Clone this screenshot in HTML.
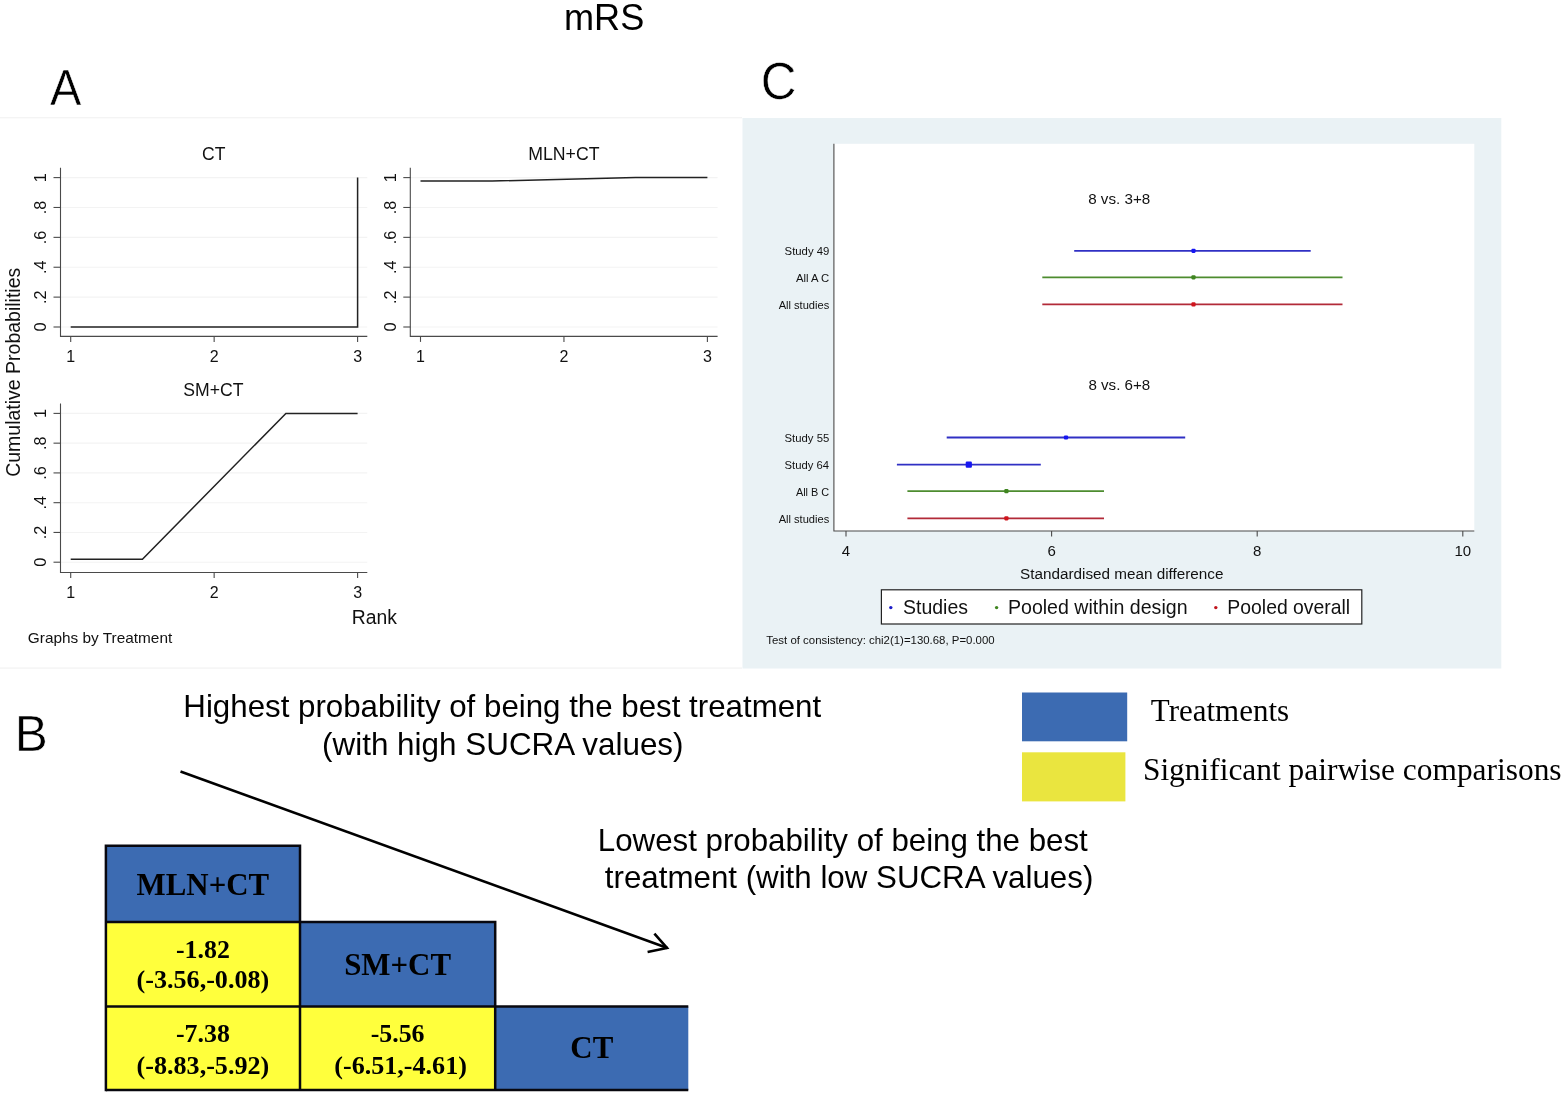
<!DOCTYPE html>
<html lang="en"><head><meta charset="utf-8"><title>mRS</title>
<style>html,body{margin:0;padding:0;background:#fff}svg{display:block}</style>
</head><body>
<svg width="1566" height="1094" viewBox="0 0 1566 1094">
<rect width="1566" height="1094" fill="#fff"/>
<rect x="0" y="117" width="742" height="1.4" fill="#f4f4f4"/>
<rect x="0" y="667.4" width="742" height="1.4" fill="#f4f4f4"/>
<text font-size="36.14" font-family="Liberation Sans, Arial, sans-serif" fill="#000" transform="translate(564.01,30.0) scale(1,1.03)" >mRS</text>
<text font-size="50.58" font-family="Liberation Sans, Arial, sans-serif" fill="#000" stroke="#fff" stroke-width="0.55" transform="translate(50.11,105.30) scale(0.9304,1)">A</text>
<text font-size="51.55" font-family="Liberation Sans, Arial, sans-serif" fill="#000" stroke="#fff" stroke-width="0.55" transform="translate(760.73,98.78) scale(0.9592,1)">C</text>
<text font-size="50.44" font-family="Liberation Sans, Arial, sans-serif" fill="#000" stroke="#fff" stroke-width="0.55" transform="translate(14.74,751.30) scale(0.9820,1)">B</text>
<line x1="60.5" y1="327.00" x2="367.3" y2="327.00" stroke="#f3f3f3" stroke-width="1.1"/>
<line x1="60.5" y1="297.12" x2="367.3" y2="297.12" stroke="#f3f3f3" stroke-width="1.1"/>
<line x1="60.5" y1="267.24" x2="367.3" y2="267.24" stroke="#f3f3f3" stroke-width="1.1"/>
<line x1="60.5" y1="237.36" x2="367.3" y2="237.36" stroke="#f3f3f3" stroke-width="1.1"/>
<line x1="60.5" y1="207.48" x2="367.3" y2="207.48" stroke="#f3f3f3" stroke-width="1.1"/>
<line x1="60.5" y1="177.60" x2="367.3" y2="177.60" stroke="#f3f3f3" stroke-width="1.1"/>
<path d="M60.5 167.8 V336.4 H367.3" fill="none" stroke="#4a4a4a" stroke-width="1.1"/>
<line x1="53.5" y1="327.00" x2="60.5" y2="327.00" stroke="#4a4a4a" stroke-width="1.1"/>
<text x="0" y="0" font-size="16.3" text-anchor="middle" font-family="Liberation Sans, Arial, sans-serif" fill="#111" transform="translate(46.1,327.00) rotate(-90)">0</text>
<line x1="53.5" y1="297.12" x2="60.5" y2="297.12" stroke="#4a4a4a" stroke-width="1.1"/>
<text x="0" y="0" font-size="16.3" text-anchor="middle" font-family="Liberation Sans, Arial, sans-serif" fill="#111" transform="translate(46.1,297.12) rotate(-90)">.2</text>
<line x1="53.5" y1="267.24" x2="60.5" y2="267.24" stroke="#4a4a4a" stroke-width="1.1"/>
<text x="0" y="0" font-size="16.3" text-anchor="middle" font-family="Liberation Sans, Arial, sans-serif" fill="#111" transform="translate(46.1,267.24) rotate(-90)">.4</text>
<line x1="53.5" y1="237.36" x2="60.5" y2="237.36" stroke="#4a4a4a" stroke-width="1.1"/>
<text x="0" y="0" font-size="16.3" text-anchor="middle" font-family="Liberation Sans, Arial, sans-serif" fill="#111" transform="translate(46.1,237.36) rotate(-90)">.6</text>
<line x1="53.5" y1="207.48" x2="60.5" y2="207.48" stroke="#4a4a4a" stroke-width="1.1"/>
<text x="0" y="0" font-size="16.3" text-anchor="middle" font-family="Liberation Sans, Arial, sans-serif" fill="#111" transform="translate(46.1,207.48) rotate(-90)">.8</text>
<line x1="53.5" y1="177.60" x2="60.5" y2="177.60" stroke="#4a4a4a" stroke-width="1.1"/>
<text x="0" y="0" font-size="16.3" text-anchor="middle" font-family="Liberation Sans, Arial, sans-serif" fill="#111" transform="translate(46.1,177.60) rotate(-90)">1</text>
<line x1="70.70" y1="336.4" x2="70.70" y2="341.9" stroke="#4a4a4a" stroke-width="1.1"/>
<text x="70.70" y="361.7" font-size="16" text-anchor="middle" font-family="Liberation Sans, Arial, sans-serif" fill="#111" >1</text>
<line x1="214.15" y1="336.4" x2="214.15" y2="341.9" stroke="#4a4a4a" stroke-width="1.1"/>
<text x="214.15" y="361.7" font-size="16" text-anchor="middle" font-family="Liberation Sans, Arial, sans-serif" fill="#111" >2</text>
<line x1="357.60" y1="336.4" x2="357.60" y2="341.9" stroke="#4a4a4a" stroke-width="1.1"/>
<text x="357.60" y="361.7" font-size="16" text-anchor="middle" font-family="Liberation Sans, Arial, sans-serif" fill="#111" >3</text>
<text x="202.12" y="159.9" font-size="17.54" text-anchor="start" font-family="Liberation Sans, Arial, sans-serif" fill="#111" >CT</text>
<path d="M70.70 327.00 L357.60 327.00 L357.60 177.60 " fill="none" stroke="#222" stroke-width="1.5" stroke-linejoin="miter"/>
<line x1="410.3" y1="327.00" x2="717.6" y2="327.00" stroke="#f3f3f3" stroke-width="1.1"/>
<line x1="410.3" y1="297.12" x2="717.6" y2="297.12" stroke="#f3f3f3" stroke-width="1.1"/>
<line x1="410.3" y1="267.24" x2="717.6" y2="267.24" stroke="#f3f3f3" stroke-width="1.1"/>
<line x1="410.3" y1="237.36" x2="717.6" y2="237.36" stroke="#f3f3f3" stroke-width="1.1"/>
<line x1="410.3" y1="207.48" x2="717.6" y2="207.48" stroke="#f3f3f3" stroke-width="1.1"/>
<line x1="410.3" y1="177.60" x2="717.6" y2="177.60" stroke="#f3f3f3" stroke-width="1.1"/>
<path d="M410.3 167.8 V336.4 H717.6" fill="none" stroke="#4a4a4a" stroke-width="1.1"/>
<line x1="403.3" y1="327.00" x2="410.3" y2="327.00" stroke="#4a4a4a" stroke-width="1.1"/>
<text x="0" y="0" font-size="16.3" text-anchor="middle" font-family="Liberation Sans, Arial, sans-serif" fill="#111" transform="translate(395.90000000000003,327.00) rotate(-90)">0</text>
<line x1="403.3" y1="297.12" x2="410.3" y2="297.12" stroke="#4a4a4a" stroke-width="1.1"/>
<text x="0" y="0" font-size="16.3" text-anchor="middle" font-family="Liberation Sans, Arial, sans-serif" fill="#111" transform="translate(395.90000000000003,297.12) rotate(-90)">.2</text>
<line x1="403.3" y1="267.24" x2="410.3" y2="267.24" stroke="#4a4a4a" stroke-width="1.1"/>
<text x="0" y="0" font-size="16.3" text-anchor="middle" font-family="Liberation Sans, Arial, sans-serif" fill="#111" transform="translate(395.90000000000003,267.24) rotate(-90)">.4</text>
<line x1="403.3" y1="237.36" x2="410.3" y2="237.36" stroke="#4a4a4a" stroke-width="1.1"/>
<text x="0" y="0" font-size="16.3" text-anchor="middle" font-family="Liberation Sans, Arial, sans-serif" fill="#111" transform="translate(395.90000000000003,237.36) rotate(-90)">.6</text>
<line x1="403.3" y1="207.48" x2="410.3" y2="207.48" stroke="#4a4a4a" stroke-width="1.1"/>
<text x="0" y="0" font-size="16.3" text-anchor="middle" font-family="Liberation Sans, Arial, sans-serif" fill="#111" transform="translate(395.90000000000003,207.48) rotate(-90)">.8</text>
<line x1="403.3" y1="177.60" x2="410.3" y2="177.60" stroke="#4a4a4a" stroke-width="1.1"/>
<text x="0" y="0" font-size="16.3" text-anchor="middle" font-family="Liberation Sans, Arial, sans-serif" fill="#111" transform="translate(395.90000000000003,177.60) rotate(-90)">1</text>
<line x1="420.50" y1="336.4" x2="420.50" y2="341.9" stroke="#4a4a4a" stroke-width="1.1"/>
<text x="420.50" y="361.7" font-size="16" text-anchor="middle" font-family="Liberation Sans, Arial, sans-serif" fill="#111" >1</text>
<line x1="563.95" y1="336.4" x2="563.95" y2="341.9" stroke="#4a4a4a" stroke-width="1.1"/>
<text x="563.95" y="361.7" font-size="16" text-anchor="middle" font-family="Liberation Sans, Arial, sans-serif" fill="#111" >2</text>
<line x1="707.40" y1="336.4" x2="707.40" y2="341.9" stroke="#4a4a4a" stroke-width="1.1"/>
<text x="707.40" y="361.7" font-size="16" text-anchor="middle" font-family="Liberation Sans, Arial, sans-serif" fill="#111" >3</text>
<text x="528.25" y="160.2" font-size="17.71" text-anchor="start" font-family="Liberation Sans, Arial, sans-serif" fill="#111" >MLN+CT</text>
<path d="M420.50 181.04 L492.23 181.04 L635.67 177.60 L707.40 177.60 " fill="none" stroke="#222" stroke-width="1.5" stroke-linejoin="miter"/>
<line x1="60.5" y1="562.20" x2="367.3" y2="562.20" stroke="#f3f3f3" stroke-width="1.1"/>
<line x1="60.5" y1="532.44" x2="367.3" y2="532.44" stroke="#f3f3f3" stroke-width="1.1"/>
<line x1="60.5" y1="502.68" x2="367.3" y2="502.68" stroke="#f3f3f3" stroke-width="1.1"/>
<line x1="60.5" y1="472.92" x2="367.3" y2="472.92" stroke="#f3f3f3" stroke-width="1.1"/>
<line x1="60.5" y1="443.16" x2="367.3" y2="443.16" stroke="#f3f3f3" stroke-width="1.1"/>
<line x1="60.5" y1="413.40" x2="367.3" y2="413.40" stroke="#f3f3f3" stroke-width="1.1"/>
<path d="M60.5 403.4 V572.5 H367.3" fill="none" stroke="#4a4a4a" stroke-width="1.1"/>
<line x1="53.5" y1="562.20" x2="60.5" y2="562.20" stroke="#4a4a4a" stroke-width="1.1"/>
<text x="0" y="0" font-size="16.3" text-anchor="middle" font-family="Liberation Sans, Arial, sans-serif" fill="#111" transform="translate(46.1,562.20) rotate(-90)">0</text>
<line x1="53.5" y1="532.44" x2="60.5" y2="532.44" stroke="#4a4a4a" stroke-width="1.1"/>
<text x="0" y="0" font-size="16.3" text-anchor="middle" font-family="Liberation Sans, Arial, sans-serif" fill="#111" transform="translate(46.1,532.44) rotate(-90)">.2</text>
<line x1="53.5" y1="502.68" x2="60.5" y2="502.68" stroke="#4a4a4a" stroke-width="1.1"/>
<text x="0" y="0" font-size="16.3" text-anchor="middle" font-family="Liberation Sans, Arial, sans-serif" fill="#111" transform="translate(46.1,502.68) rotate(-90)">.4</text>
<line x1="53.5" y1="472.92" x2="60.5" y2="472.92" stroke="#4a4a4a" stroke-width="1.1"/>
<text x="0" y="0" font-size="16.3" text-anchor="middle" font-family="Liberation Sans, Arial, sans-serif" fill="#111" transform="translate(46.1,472.92) rotate(-90)">.6</text>
<line x1="53.5" y1="443.16" x2="60.5" y2="443.16" stroke="#4a4a4a" stroke-width="1.1"/>
<text x="0" y="0" font-size="16.3" text-anchor="middle" font-family="Liberation Sans, Arial, sans-serif" fill="#111" transform="translate(46.1,443.16) rotate(-90)">.8</text>
<line x1="53.5" y1="413.40" x2="60.5" y2="413.40" stroke="#4a4a4a" stroke-width="1.1"/>
<text x="0" y="0" font-size="16.3" text-anchor="middle" font-family="Liberation Sans, Arial, sans-serif" fill="#111" transform="translate(46.1,413.40) rotate(-90)">1</text>
<line x1="70.70" y1="572.5" x2="70.70" y2="578.0" stroke="#4a4a4a" stroke-width="1.1"/>
<text x="70.70" y="597.8" font-size="16" text-anchor="middle" font-family="Liberation Sans, Arial, sans-serif" fill="#111" >1</text>
<line x1="214.15" y1="572.5" x2="214.15" y2="578.0" stroke="#4a4a4a" stroke-width="1.1"/>
<text x="214.15" y="597.8" font-size="16" text-anchor="middle" font-family="Liberation Sans, Arial, sans-serif" fill="#111" >2</text>
<line x1="357.60" y1="572.5" x2="357.60" y2="578.0" stroke="#4a4a4a" stroke-width="1.1"/>
<text x="357.60" y="597.8" font-size="16" text-anchor="middle" font-family="Liberation Sans, Arial, sans-serif" fill="#111" >3</text>
<text x="183.31" y="396" font-size="17.62" text-anchor="start" font-family="Liberation Sans, Arial, sans-serif" fill="#111" >SM+CT</text>
<path d="M70.70 559.22 L142.43 559.22 L285.88 413.40 L357.60 413.40 " fill="none" stroke="#222" stroke-width="1.5" stroke-linejoin="miter"/>
<text x="0" y="0" font-size="19.5" text-anchor="middle" font-family="Liberation Sans, Arial, sans-serif" fill="#111" transform="translate(19.9,372.3) rotate(-90) scale(1,1.035)">Cumulative Probabilities</text>
<text x="351.71" y="623.6" font-size="19.34" text-anchor="start" font-family="Liberation Sans, Arial, sans-serif" fill="#111" >Rank</text>
<text x="27.83" y="642.8" font-size="15.39" text-anchor="start" font-family="Liberation Sans, Arial, sans-serif" fill="#111" >Graphs by Treatment</text>
<rect x="742.5" y="118" width="758.8" height="550.5" fill="#eaf2f5"/>
<rect x="833.5" y="143.8" width="640.8" height="387.2" fill="#fff"/>
<path d="M833.9 143.8 V531 H1474.3" fill="none" stroke="#4a4a4a" stroke-width="1.1"/>
<line x1="846.0" y1="531" x2="846.0" y2="536.5" stroke="#4a4a4a" stroke-width="1.1"/>
<text x="846.0" y="556.2" font-size="15" text-anchor="middle" font-family="Liberation Sans, Arial, sans-serif" fill="#111" >4</text>
<line x1="1051.6" y1="531" x2="1051.6" y2="536.5" stroke="#4a4a4a" stroke-width="1.1"/>
<text x="1051.6" y="556.2" font-size="15" text-anchor="middle" font-family="Liberation Sans, Arial, sans-serif" fill="#111" >6</text>
<line x1="1257.2" y1="531" x2="1257.2" y2="536.5" stroke="#4a4a4a" stroke-width="1.1"/>
<text x="1257.2" y="556.2" font-size="15" text-anchor="middle" font-family="Liberation Sans, Arial, sans-serif" fill="#111" >8</text>
<line x1="1462.8" y1="531" x2="1462.8" y2="536.5" stroke="#4a4a4a" stroke-width="1.1"/>
<text x="1462.8" y="556.2" font-size="15" text-anchor="middle" font-family="Liberation Sans, Arial, sans-serif" fill="#111" >10</text>
<line x1="1074.2" y1="250.8" x2="1310.7" y2="250.8" stroke="#3030c4" stroke-width="1.8"/>
<rect x="1191.4" y="248.7" width="4.2" height="4.2" rx="1.1" fill="#1616f2"/>
<text x="784.59" y="255.10000000000002" font-size="11.34" text-anchor="start" font-family="Liberation Sans, Arial, sans-serif" fill="#111" >Study 49</text>
<line x1="1042.3" y1="277.3" x2="1342.5" y2="277.3" stroke="#4d8c2f" stroke-width="1.8"/>
<rect x="1191.4" y="275.2" width="4.2" height="4.2" rx="1.1" fill="#3f8520"/>
<text x="795.93" y="281.6" font-size="11.3" text-anchor="start" font-family="Liberation Sans, Arial, sans-serif" fill="#111" >All A C</text>
<line x1="1042.3" y1="304.4" x2="1342.5" y2="304.4" stroke="#b22a38" stroke-width="1.8"/>
<rect x="1191.4" y="302.3" width="4.2" height="4.2" rx="1.1" fill="#d0141c"/>
<text x="778.69" y="308.7" font-size="11.08" text-anchor="start" font-family="Liberation Sans, Arial, sans-serif" fill="#111" >All studies</text>
<line x1="946.7" y1="437.5" x2="1185.2" y2="437.5" stroke="#3030c4" stroke-width="1.8"/>
<rect x="1063.9" y="435.4" width="4.2" height="4.2" rx="1.1" fill="#1616f2"/>
<text x="784.59" y="441.8" font-size="11.32" text-anchor="start" font-family="Liberation Sans, Arial, sans-serif" fill="#111" >Study 55</text>
<line x1="896.9" y1="464.7" x2="1040.8" y2="464.7" stroke="#3030c4" stroke-width="1.8"/>
<rect x="965.7" y="461.6" width="6.2" height="6.2" rx="1.1" fill="#1616f2"/>
<text x="784.59" y="469.0" font-size="11.28" text-anchor="start" font-family="Liberation Sans, Arial, sans-serif" fill="#111" >Study 64</text>
<line x1="907.4" y1="491.2" x2="1104.0" y2="491.2" stroke="#4d8c2f" stroke-width="1.8"/>
<rect x="1004.3" y="489.1" width="4.2" height="4.2" rx="1.1" fill="#3f8520"/>
<text x="795.93" y="495.5" font-size="10.89" text-anchor="start" font-family="Liberation Sans, Arial, sans-serif" fill="#111" >All B C</text>
<line x1="907.4" y1="518.3" x2="1104.0" y2="518.3" stroke="#b22a38" stroke-width="1.8"/>
<rect x="1004.3" y="516.2" width="4.2" height="4.2" rx="1.1" fill="#d0141c"/>
<text x="778.69" y="522.5999999999999" font-size="11.08" text-anchor="start" font-family="Liberation Sans, Arial, sans-serif" fill="#111" >All studies</text>
<text x="1088.15" y="203.8" font-size="15.2" text-anchor="start" font-family="Liberation Sans, Arial, sans-serif" fill="#111" >8 vs. 3+8</text>
<text x="1088.41" y="390.2" font-size="15.13" text-anchor="start" font-family="Liberation Sans, Arial, sans-serif" fill="#111" >8 vs. 6+8</text>
<text x="1020.04" y="579.1" font-size="15.28" text-anchor="start" font-family="Liberation Sans, Arial, sans-serif" fill="#111" >Standardised mean difference</text>
<rect x="881.4" y="589.8" width="480.4" height="34.2" fill="#fff" stroke="#222" stroke-width="1.2"/>
<circle cx="890.8" cy="607.6" r="1.7" fill="#1c1cc8"/>
<text x="903.0" y="614.3" font-size="19.48" text-anchor="start" font-family="Liberation Sans, Arial, sans-serif" fill="#111" >Studies</text>
<circle cx="996.6" cy="607.6" r="1.7" fill="#3f8520"/>
<text x="1007.95" y="614.3" font-size="19.58" text-anchor="start" font-family="Liberation Sans, Arial, sans-serif" fill="#111" >Pooled within design</text>
<circle cx="1215.8" cy="607.6" r="1.7" fill="#c0141c"/>
<text x="1227.36" y="614.3" font-size="19.39" text-anchor="start" font-family="Liberation Sans, Arial, sans-serif" fill="#111" >Pooled overall</text>
<text x="766.33" y="644.2" font-size="11.42" text-anchor="start" font-family="Liberation Sans, Arial, sans-serif" fill="#111" >Test of consistency: chi2(1)=130.68, P=0.000</text>
<text font-size="31.28" font-family="Liberation Sans, Arial, sans-serif" fill="#000" transform="translate(183.34,716.9) scale(1,1.01)" >Highest probability of being the best treatment</text>
<text font-size="31.43" font-family="Liberation Sans, Arial, sans-serif" fill="#000" transform="translate(322.05,754.9) scale(1,1.01)" >(with high SUCRA values)</text>
<text font-size="31.26" font-family="Liberation Sans, Arial, sans-serif" fill="#000" transform="translate(597.84,850.5) scale(1,1.01)" >Lowest probability of being the best</text>
<text font-size="31.3" font-family="Liberation Sans, Arial, sans-serif" fill="#000" transform="translate(604.83,887.9) scale(1,1.01)" >treatment (with low SUCRA values)</text>
<path d="M180.5 771.5 L667.4 948" stroke="#000" stroke-width="2.6" fill="none"/>
<path d="M647.6 951.9 L667 948 L654.4 933.6" stroke="#000" stroke-width="2.6" fill="none" stroke-linejoin="miter"/>
<rect x="1022" y="692.5" width="105.2" height="48.8" fill="#3c6bb2"/>
<rect x="1022" y="752.3" width="103.4" height="49.1" fill="#eae53f"/>
<text x="1150.84" y="720.5" font-size="30.98" text-anchor="start" font-family="Liberation Serif, Times New Roman, serif" fill="#000" >Treatments</text>
<text x="1142.93" y="780.2" font-size="31.42" text-anchor="start" font-family="Liberation Serif, Times New Roman, serif" fill="#000" >Significant pairwise comparisons</text>
<rect x="105.9" y="845.7" width="194.1" height="76.3" fill="#3c6bb2"/>
<rect x="105.9" y="922.0" width="194.1" height="84.6" fill="#ffff3c"/>
<rect x="300.0" y="922.0" width="195.2" height="84.6" fill="#3c6bb2"/>
<rect x="105.9" y="1006.6" width="194.1" height="83.3" fill="#ffff3c"/>
<rect x="300.0" y="1006.6" width="195.2" height="83.3" fill="#ffff3c"/>
<rect x="495.2" y="1006.6" width="193.1" height="83.3" fill="#3c6bb2"/>
<text x="202.9" y="895" font-size="30.9" text-anchor="middle" font-family="Liberation Serif, Times New Roman, serif" font-weight="bold" fill="#000" >MLN+CT</text>
<text x="202.9" y="957.5" font-size="25.9" text-anchor="middle" font-family="Liberation Serif, Times New Roman, serif" font-weight="bold" fill="#000" >-1.82</text>
<text x="202.9" y="988.3" font-size="26.1" text-anchor="middle" font-family="Liberation Serif, Times New Roman, serif" font-weight="bold" fill="#000" >(-3.56,-0.08)</text>
<text x="397.6" y="975.4" font-size="30.9" text-anchor="middle" font-family="Liberation Serif, Times New Roman, serif" font-weight="bold" fill="#000" >SM+CT</text>
<text x="202.9" y="1041.5" font-size="25.9" text-anchor="middle" font-family="Liberation Serif, Times New Roman, serif" font-weight="bold" fill="#000" >-7.38</text>
<text x="202.9" y="1073.7" font-size="26.1" text-anchor="middle" font-family="Liberation Serif, Times New Roman, serif" font-weight="bold" fill="#000" >(-8.83,-5.92)</text>
<text x="397.6" y="1041.5" font-size="25.9" text-anchor="middle" font-family="Liberation Serif, Times New Roman, serif" font-weight="bold" fill="#000" >-5.56</text>
<text x="400.6" y="1073.7" font-size="26.1" text-anchor="middle" font-family="Liberation Serif, Times New Roman, serif" font-weight="bold" fill="#000" >(-6.51,-4.61)</text>
<text x="591.8" y="1057.8" font-size="30.9" text-anchor="middle" font-family="Liberation Serif, Times New Roman, serif" font-weight="bold" fill="#000" >CT</text>
<g fill="none" stroke="#08080f" stroke-width="2.5" stroke-linejoin="miter">
<path d="M105.9 1091.15 V845.7 H300.0 V1089.9"/>
<path d="M105.9 922.0 H495.2 V1089.9"/>
<path d="M105.9 1006.6 H688.3"/>
<path d="M105.9 1089.9 H688.3"/>
</g>
</svg>
</body></html>
